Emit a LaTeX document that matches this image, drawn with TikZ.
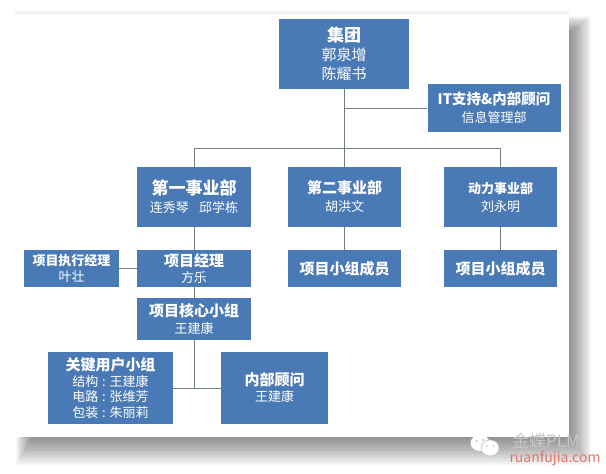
\documentclass[tikz,border=0pt]{standalone}
\usepackage{fontspec}
\setmainfont{Noto Sans CJK SC}
\definecolor{boxblue}{HTML}{4A7AB5}
\definecolor{linegray}{HTML}{6F7C80}
\definecolor{markgray}{HTML}{C6C6C6}
\definecolor{markred}{HTML}{D9786E}
\newcommand{\fs}[2]{\fontsize{#1}{#2}\selectfont}
\newcommand{\hd}[2]{{\bfseries\fs{#1}{#1}#2}}
\newcommand{\cl}{\hspace{.3em}:\hspace{.3em}}
\tikzset{
	orgbox/.style={fill=boxblue, text=white, align=center, inner sep=0pt, font=\fs{13}{18}},
	orgline/.style={draw=linegray, line width=.8pt},
}
\begin{document}
\begin{tikzpicture}[x=1pt, y=-1pt, line join=round]
	\useasboundingbox (0,0) rectangle (606,474);
	% page shadow
	\foreach \i in {1,...,20}\fill[black, opacity=.027] (33-.85*\i,33-.85*\i) rectangle (569+1.1*\i,437+1.4*\i);
	\fill[black, opacity=.04] (15,11) rectangle (569,15);
	\fill[white] (15,15) rectangle (569,437);
	% boxes
	\node[orgbox, minimum width=130pt, minimum height=70pt, font=\fs{15}{19}] (group) at (344,54) {\hd{17}{集团}\\郭泉增\\陈耀书};
	\node[orgbox, minimum width=133pt, minimum height=48pt] (itdept) at (494,108) {\hd{14.5}{IT支持\&内部顾问}\\信息管理部};
	\node[orgbox, minimum width=114pt, minimum height=60pt] (divone) at (194,197) {\hd{17}{第一事业部}\\连秀琴\hspace{.8em}邱学栋};
	\node[orgbox, minimum width=113pt, minimum height=60pt] (divtwo) at (344.5,197) {\hd{15}{第二事业部}\\胡洪文};
	\node[orgbox, minimum width=113pt, minimum height=60pt] (divpower) at (500.5,197) {\hd{13}{动力事业部}\\刘永明};
	\node[orgbox, minimum width=95pt, minimum height=37pt, font=\fs{13}{16}] (execpm) at (71.5,268.5) {\hd{13}{项目执行经理}\\叶壮};
	\node[orgbox, minimum width=114pt, minimum height=37pt, font=\fs{13}{16}] (pm) at (194,268.5) {\hd{15}{项目经理}\\方乐};
	\node[orgbox, minimum width=113pt, minimum height=37pt] (teamtwo) at (344.5,268.5) {\hd{15}{项目小组成员}};
	\node[orgbox, minimum width=113pt, minimum height=37pt] (teampower) at (500.5,268.5) {\hd{15}{项目小组成员}};
	\node[orgbox, minimum width=114pt, minimum height=42pt, font=\fs{13}{17}] (core) at (194,319) {\hd{15}{项目核心小组}\\王建康};
	\node[orgbox, minimum width=125pt, minimum height=72pt, font=\fs{13}{15.5}] (keyuser) at (110.5,388) {\hd{15}{关键用户小组}\\结构\cl 王建康\\电路\cl 张维芳\\包装\cl 朱丽莉};
	\node[orgbox, minimum width=107pt, minimum height=72pt, font=\fs{13}{16}] (advisor) at (274.5,388) {\hd{15}{内部顾问}\\王建康};
	% connectors
	\coordinate (itjoin) at (group.south |- itdept.west);
	\coordinate (busleft) at (divone.north |- 0,148);
	\coordinate (busright) at (divpower.north |- 0,148);
	\coordinate (corejoin) at (core.south |- keyuser.east);
	\draw[orgline] (group.south) -- (group.south |- divtwo.north);
	\draw[orgline] (itjoin) -- (itdept.west);
	\draw[orgline] (divone.north) -- (busleft) -- (busright) -- (divpower.north);
	\draw[orgline] (divone.south) -- (pm.north);
	\draw[orgline] (divtwo.south) -- (teamtwo.north);
	\draw[orgline] (divpower.south) -- (teampower.north);
	\draw[orgline] (execpm.east) -- (pm.west);
	\draw[orgline] (pm.south) -- (core.north);
	\draw[orgline] (core.south) -- (corejoin);
	\draw[orgline] (keyuser.east) -- (advisor.west);
	% watermark
	\fill[white] (480,443) ellipse (9.5pt and 8pt);
	\draw[markgray, fill=white, line width=.7pt] (490,448) ellipse (9pt and 8pt);
	\fill[markgray] (476.5,441) circle (1.1pt) (483,440) circle (1.1pt) (487,446) circle (1pt) (493.5,446) circle (1pt);
	\node[text=markgray, inner sep=0pt, font=\fs{17}{17}] (markname) at (546,441) {金蝶PLM};
	\node[text=markred, inner sep=0pt, font=\fs{14}{14}] (marksite) at (555,459) {ruanfujia.com};
\end{tikzpicture}
\end{document}
